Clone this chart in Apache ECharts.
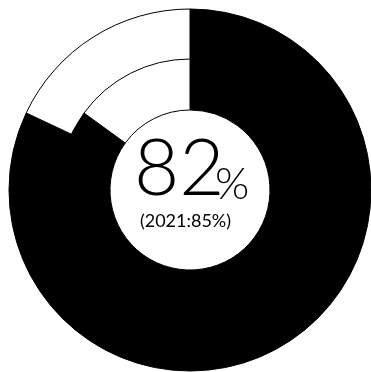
<!DOCTYPE html>
<html><head><meta charset="utf-8">
<script src="https://cdn.jsdelivr.net/npm/echarts@6/dist/echarts.min.js"></script>
<style>html,body{margin:0;padding:0;background:#fff}#c{width:371px;height:372px}</style>
</head><body><div id="c"></div>
<script>
const years = ['2022', '2021'];
const shares = [82, 85];
const mainLabel = '82';
const subLabel = '(2021:85%)';

const chart = echarts.init(document.getElementById('c'), null, {renderer: 'canvas'});
const radii = [[130, 181], [80, 131]];
const series = years.map((y, i) => ({
  type: 'pie', name: y, radius: radii[i], center: [190, 190],
  startAngle: 90, clockwise: true, silent: true, animation: false,
  label: {show: false}, labelLine: {show: false},
  data: [
    {value: shares[i], name: 'yes', itemStyle: {color: '#000', borderColor: '#000', borderWidth: 1}},
    {value: 100 - shares[i], name: 'no', itemStyle: {color: '#fff', borderColor: '#000', borderWidth: 1}}
  ]
}));
chart.setOption({
  backgroundColor: '#fff',
  series: series,
  graphic: [
    {type: 'text', left: 134, top: 131, style: {
      text: mainLabel, fontFamily: 'Lato', fontWeight: 300, fontSize: 78, fill: '#000'
    }},
    {type: 'text', left: 215, top: 163, style: {
      text: '%', fontFamily: 'Lato', fontWeight: 300, fontSize: 44, fill: '#000'
    }},
    {type: 'text', left: 'center', top: 212, style: {
      text: subLabel, fontFamily: 'Lato', fontWeight: 400, fontSize: 18, fill: '#000'
    }}
  ]
});
</script></body></html>
